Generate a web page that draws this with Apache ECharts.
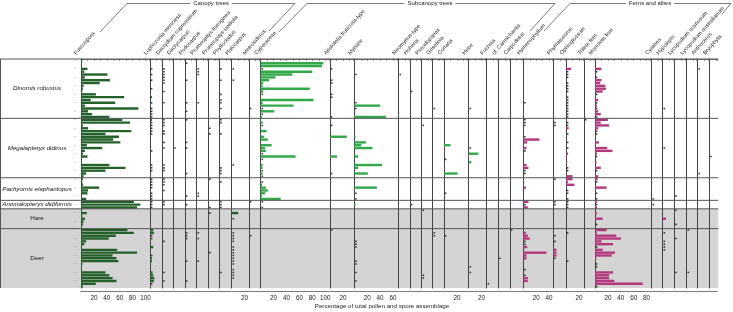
<!DOCTYPE html>
<html>
<head>
<meta charset="utf-8">
<script src="https://cdn.jsdelivr.net/npm/echarts@6/dist/echarts.min.js"></script>
<style>
  html, body { margin: 0; padding: 0; background: #fff; }
  #main { width: 733px; height: 312px; }
</style>
</head>
<body>
<div id="main"></div>
<script>
// sample groups (top to bottom) and number of samples in each
var groups = ['Dinornis robustus', 'Megalapteryx didinus', 'Pachyornis elephantopus',
  'Anomalopteryx didiformis', 'Hare', 'Deer'];
var groupSizes = [21, 21, 8, 3, 7, 21];

// Fuscospora, one value per sample (%)
var fuscospora = [
  2, 1, 0, 10, 5, 41, 6, 45, 29, 4, 3, 2, 23, 67, 15, 53, 6, 89, 11, 17, 44,
  64, 76, 3, 11, 78, 38, 59, 50, 61, 9, 33, 6, 3, 10, 1, 1, 44, 69, 38, 8, 4,
  3, 2, 3, 28, 11, 10, 1, 8,
  82, 92, 87,
  0, 9, 2, 6, 4, 3, 1,
  72, 82, 54, 43, 8, 5, 1, 56, 87, 49, 55, 58, 2, 1, 1, 38, 44, 49, 55, 23, 3
];

// sparse taxa: a plain number = sample with a trace (<1%), [sample, %] = bar
var lophozonia = [3, 5, 7, 10, [13, 3], 15, 17, 18, 19, 20, [21, 3], 22, 23, 24, 25, 26, 32, 37, 38, 39,
  42, 43, 44, 45, 47, 48, 49, 50, 51, 52, [60, 5], [61, 6], 62, 63, [66, 5], 69, [70, 3], [71, 3],
  [75, 4], [76, 5], [77, 7], [78, 6], 79];
var dacrydium = [3, 4, 5, 6, 7, 8, 11, 15, 21, 22, 23, 25, 26, 29, 31, 37, 38, 39, 42, 43, 44, 46, 50, 51, 64, 75, 78];
var dacrycarpus = [31];
var podocarpus = [1, 7, 15, 18, 21, 29, 31, 40, 48, 51, 61, 62, 63, 71, 78];
var prumnopitysFerruginea = [3, 4, 5, 15, 47, 48, 61, 63, 71];
var prumnopitysTaxifolia = [24, 26, 42, 52, 54, 68];
var phyllocladus = [3, 7, 12, 14, 15, 17, 21, 22, 26, 38, 39, 40, 43, 50, 51, 52, 75];
var halocarpus = [3, 7, 37, [54, 10], 56, 61, 62, 63, 64, 66, 67, 68, 69, 70, 71, 72, 74, 75, 76, 77];
var metrosideros = [17, 50, 62];
var cyperaceae = [[1, 97], [2, 95], 3, [4, 80], [5, 49], [6, 23], [7, 13], [8, 4], [9, 3], [10, 76], [11, 4], 12,
  [14, 82], [15, 3], [16, 51], 17, [18, 21], 19, [20, 2], [22, 3], 23, [25, 9], [27, 5], [28, 11], [30, 17],
  [31, 7], [32, 8], 33, [34, 54], 35, [37, 3], [38, 3], 39, [40, 3], 41, 43, [44, 2], [45, 8], [46, 11],
  [47, 7], [48, 2], [49, 31], 50, 52];
var aristotelia = [3, 7, 8, 12, 13, 20, 23, [27, 26], [34, 11], 40, 60];
var myrsine = [5, 15, [16, 40], 17, [20, 49], [27, 2], [29, 18], [30, 11], [31, 28], [34, 6], [37, 43], [38, 6],
  [40, 21], [45, 35], 47, 49, [51, 2], 64, 65, 66, 71, 72, 75, 78];
var neomyrtus = [5];
var hoheria = [11, 51];
var pseudopanax = [23, 53, 76, 77];
var griselinia = [17, 61, 62];
var coriaria = [[30, 10], 35, [40, 21], 47, 62];
var hebe = [17, 31, [33, 15], [36, 4], 73, 75];
var fuchsia = [79];
var carmichaelia = [70];
var carpodetus = [60];
var hymenophyllum = [15, 21, 22, 23, 27, [28, 25], [29, 6], [31, 5], 32, [37, 5], [38, 8], 39, 40, [45, 4],
  [50, 8], 51, [52, 7], [61, 4], [62, 7], [63, 10], 64, 65, [66, 6], [68, 36], [69, 5], [70, 5], 74, 76,
  [77, 7], [78, 7]];
var phymatosorus = [22, 23, 42, 50, 51, 62, 64, [67, 5], [68, 5], [69, 5], 70];
var ophioglossum = [[3, 8], 4, 5, 6, 8, 9, 10, 11, 13, 14, 15, 16, 17, 18, 19, 20, 22, 23, [24, 4], 26, 29, 31,
  [33, 3], [36, 2], 38, 39, [41, 10], [42, 10], [43, 3], [44, 13], 46, 47, 49, 50, 51, 52, 61, 71];
var trileteFern = [21];
var monoleteFern = [[3, 10], 4, 6, [7, 10], [8, 8], [9, 16], [10, 17], [11, 12], 12, [14, 5], 15, [16, 3], 17,
  [18, 5], [19, 9], 20, [21, 20], [22, 9], [23, 22], [24, 5], 25, 26, [29, 6], [31, 19], [32, 27], [33, 3], 34,
  [36, 2.5], [38, 9], 39, [41, 5], [42, 4], 43, [45, 18], 47, 49, [50, 3], 51, [52, 3], [54, 3], [56, 12], 58,
  [60, 18], [61, 3], [62, 33], [63, 40], [64, 10], [65, 28], 66, [67, 12], [68, 31], [69, 26], [70, 2], 72, 73,
  [75, 28], [76, 22], [77, 22], [78, 30], [79, 74], 80];
var cyathea = [49, 51];
var hypolepis = [17, 31, [56, 5], 61, 64, 65, 66, 67];
var lycopodiumScariosum = [48, 53, 58, 63, 75];
var lycopodiumAustralianum = [60, 75];
var anthoceros = [3, 40];
var bryophyta = [34];

var taxa = [
  ['Fuscospora', fuscospora.map(function (v, i) { return [i, v]; }), 'canopy', [20, 40, 60, 80, 100]],
  ['Lophozonia menziesii', lophozonia, 'canopy'],
  ['Dacrydium cupressinum', dacrydium, 'canopy'],
  ['Dacrycarpus', dacrycarpus, 'canopy'],
  ['Podocarpus', podocarpus, 'canopy'],
  ['Prumnopitys ferruginea', prumnopitysFerruginea, 'canopy'],
  ['Prumnopitys taxifolia', prumnopitysTaxifolia, 'canopy'],
  ['Phyllocladus', phyllocladus, 'canopy'],
  ['Halocarpus', halocarpus, 'canopy', [20]],
  ['Metrosideros', metrosideros, 'canopy'],
  ['Cyperaceae', cyperaceae, 'sub', [20, 40, 60, 80, 100]],
  ['Aristotelia fruticosa-type', aristotelia, 'sub', [20]],
  ['Myrsine', myrsine, 'sub', [20, 40, 60]],
  ['Neomyrtus-type', neomyrtus, 'sub'],
  ['Hoheria', hoheria, 'sub'],
  ['Pseudopanax', pseudopanax, 'sub'],
  ['Griselinia', griselinia, 'sub'],
  ['Coriaria', coriaria, 'sub', [20]],
  ['Hebe', hebe, 'sub', [20]],
  ['Fuchsia', fuchsia, 'sub'],
  ['cf. Carmichaelia', carmichaelia, 'sub'],
  ['Carpodetus', carpodetus, 'sub'],
  ['Hymenophyllum', hymenophyllum, 'fern', [20, 40]],
  ['Phymatosorus', phymatosorus, 'fern'],
  ['Ophioglossum', ophioglossum, 'fern', [20]],
  ['Trilete fern', trileteFern, 'fern'],
  ['Monolete fern', monoleteFern, 'fern', [20, 40, 60, 80]],
  ['Cyathea', cyathea, 'fern'],
  ['Hypolepis', hypolepis, 'fern'],
  ['Lycopodium scariosum', lycopodiumScariosum, 'fern'],
  ['Lycopodium australianum', lycopodiumAustralianum, 'fern'],
  ['Anthoceros', anthoceros, 'fern'],
  ['Bryophyta', bryophyta, 'fern']
];

// layout (pixels)
var colLeft = [81, 150, 162.3, 173.3, 185, 196.7, 208.3, 219.3, 231.7, 249, 260.7, 330, 354.3, 398.7, 410,
  421.7, 432.7, 444, 468.7, 486.7, 498.3, 510, 523.3, 553.3, 566, 584, 595, 651.7, 662.7, 674.3, 686.7,
  697.7, 709.3];
var plotRight = 718.3;
var TOP = 59, BOT = 288, PX = 0.645;
var FONT = 'Liberation Sans, Arial, sans-serif';
var colors = { canopy: '#24602a', sub: '#33a84a', fern: '#b3387c' };

var nRows = groupSizes.reduce(function (a, b) { return a + b; }, 0);
var rowH = (BOT - TOP) / nRows;
var categories = [];
groups.forEach(function (g, gi) {
  for (var k = 1; k <= groupSizes[gi]; k++) categories.push(g + ' ' + k);
});

var grids = [], xAxes = [], yAxes = [], series = [], graphics = [];

taxa.forEach(function (t, i) {
  var vals = [];
  for (var r = 0; r < nRows; r++) vals.push(0);
  t[1].forEach(function (e) {
    if (typeof e === 'number') vals[e] = 0.5; else vals[e[0]] = e[1];
  });
  var left = colLeft[i];
  var right = i + 1 < colLeft.length ? colLeft[i + 1] : plotRight;
  var w = right - left - 1;
  var max = w / PX;
  var ticks = t[3];

  grids.push({ left: left, top: TOP, width: w, height: BOT - TOP });
  xAxes.push({
    gridIndex: i, type: 'value', min: 0, max: max, interval: 20, position: 'bottom', offset: 3,
    axisLine: { show: true, lineStyle: { color: '#555', width: 0.8 } },
    axisTick: { show: false }, splitLine: { show: false },
    axisLabel: {
      show: !!ticks, fontSize: 6.3, color: '#222', margin: 4, fontFamily: FONT,
      showMinLabel: false, showMaxLabel: false,
      formatter: function (v) {
        return ticks && ticks.indexOf(Math.round(v)) >= 0 && Math.abs(v - Math.round(v)) < 1e-6 ? String(v) : '';
      }
    }
  });
  xAxes.push({
    gridIndex: i, type: 'value', min: 0, max: max, interval: 10, position: 'top',
    axisLine: { show: true, lineStyle: { color: '#555', width: 0.8 } },
    axisTick: { show: true, inside: true, length: 2, lineStyle: { color: '#555', width: 0.6 } },
    axisLabel: { show: false }, splitLine: { show: false }
  });
  yAxes.push({
    gridIndex: i, type: 'category', data: categories, inverse: true,
    axisLine: { show: true, lineStyle: { color: '#444', width: 1 } },
    axisTick: { show: false },
    axisLabel: i === 0 ? { show: true, fontSize: 5, color: '#777', margin: 5, formatter: function () { return '-'; } } : { show: false },
    splitLine: { show: false }
  });

  series.push({
    type: 'bar', xAxisIndex: 2 * i, yAxisIndex: i, barWidth: 2.4, silent: true,
    itemStyle: { color: colors[t[2]] },
    data: vals.map(function (v) { return v >= 1 ? v : '-'; })
  });
  var dots = [];
  vals.forEach(function (v, r) { if (v > 0 && v < 1) dots.push([1.6 / PX, r]); });
  series.push({
    type: 'scatter', xAxisIndex: 2 * i, yAxisIndex: i, symbol: 'rect', symbolSize: 1.6, silent: true,
    itemStyle: { color: '#111' }, data: dots
  });

  graphics.push({
    type: 'text', x: i === 0 ? 77 : left - 3, y: 56, rotation: 48 * Math.PI / 180,
    style: { text: t[0], font: '5.5px ' + FONT, fill: '#222', textAlign: 'left', textVerticalAlign: 'bottom' }
  });
});

// sample group boxes
var bounds = [0];
groupSizes.forEach(function (n, gi) { bounds.push(bounds[gi] + n); });
function rowY(r) { return TOP + r * rowH; }
graphics.push({
  type: 'rect', z: -10, shape: { x: 0, y: rowY(bounds[4]), width: plotRight, height: rowY(bounds[6]) - rowY(bounds[4]) },
  style: { fill: '#d4d4d4' }
});
for (var b = 0; b < bounds.length - 1; b++) {
  graphics.push({
    type: 'line', z: 5, shape: { x1: 0, y1: rowY(bounds[b]), x2: plotRight, y2: rowY(bounds[b]) },
    style: { stroke: '#555', lineWidth: 1 }
  });
  graphics.push({
    type: 'text', z: 6, x: 37, y: (rowY(bounds[b]) + rowY(bounds[b + 1])) / 2,
    style: {
      text: groups[b], font: (b < 4 ? 'italic ' : '') + '6.2px ' + FONT, fill: '#111',
      textAlign: 'center', textVerticalAlign: 'middle', backgroundColor: b === 3 ? '#fff' : null
    }
  });
}
graphics.push({ type: 'line', z: 5, shape: { x1: 0.5, y1: TOP, x2: 0.5, y2: BOT }, style: { stroke: '#555', lineWidth: 1 } });

// group headers
function header(text, x1, x2, cx, d1, d2) {
  graphics.push({ type: 'line', shape: { x1: x1, y1: 3.5, x2: x2, y2: 3.5 }, style: { stroke: '#444', lineWidth: 0.7 } });
  graphics.push({ type: 'line', shape: { x1: d1[0], y1: d1[1], x2: x1, y2: 3.5 }, style: { stroke: '#444', lineWidth: 0.7 } });
  graphics.push({ type: 'line', shape: { x1: d2[0], y1: d2[1], x2: x2, y2: 3.5 }, style: { stroke: '#444', lineWidth: 0.7 } });
  graphics.push({
    type: 'text', z: 3, x: cx, y: 3.5,
    style: { text: text, font: '6px ' + FONT, fill: '#222', textAlign: 'center', textVerticalAlign: 'middle', backgroundColor: '#fff', padding: [0, 3] }
  });
}
header('Canopy trees', 127, 295, 211, [100, 32], [269, 31]);
header('Subcanopy trees', 307, 555, 430, [279, 32], [530, 31]);
header('Ferns and allies', 570, 731, 650, [544, 31], [722, 14]);

graphics.push({
  type: 'text', x: 382, y: 306,
  style: { text: 'Percentage of total pollen and spore assemblage', font: '6.2px ' + FONT, fill: '#222', textAlign: 'center', textVerticalAlign: 'middle' }
});

var chart = echarts.init(document.getElementById('main'));
chart.setOption({
  animation: false,
  backgroundColor: '#fff',
  grid: grids,
  xAxis: xAxes,
  yAxis: yAxes,
  series: series,
  graphic: graphics
});
</script>
</body>
</html>
